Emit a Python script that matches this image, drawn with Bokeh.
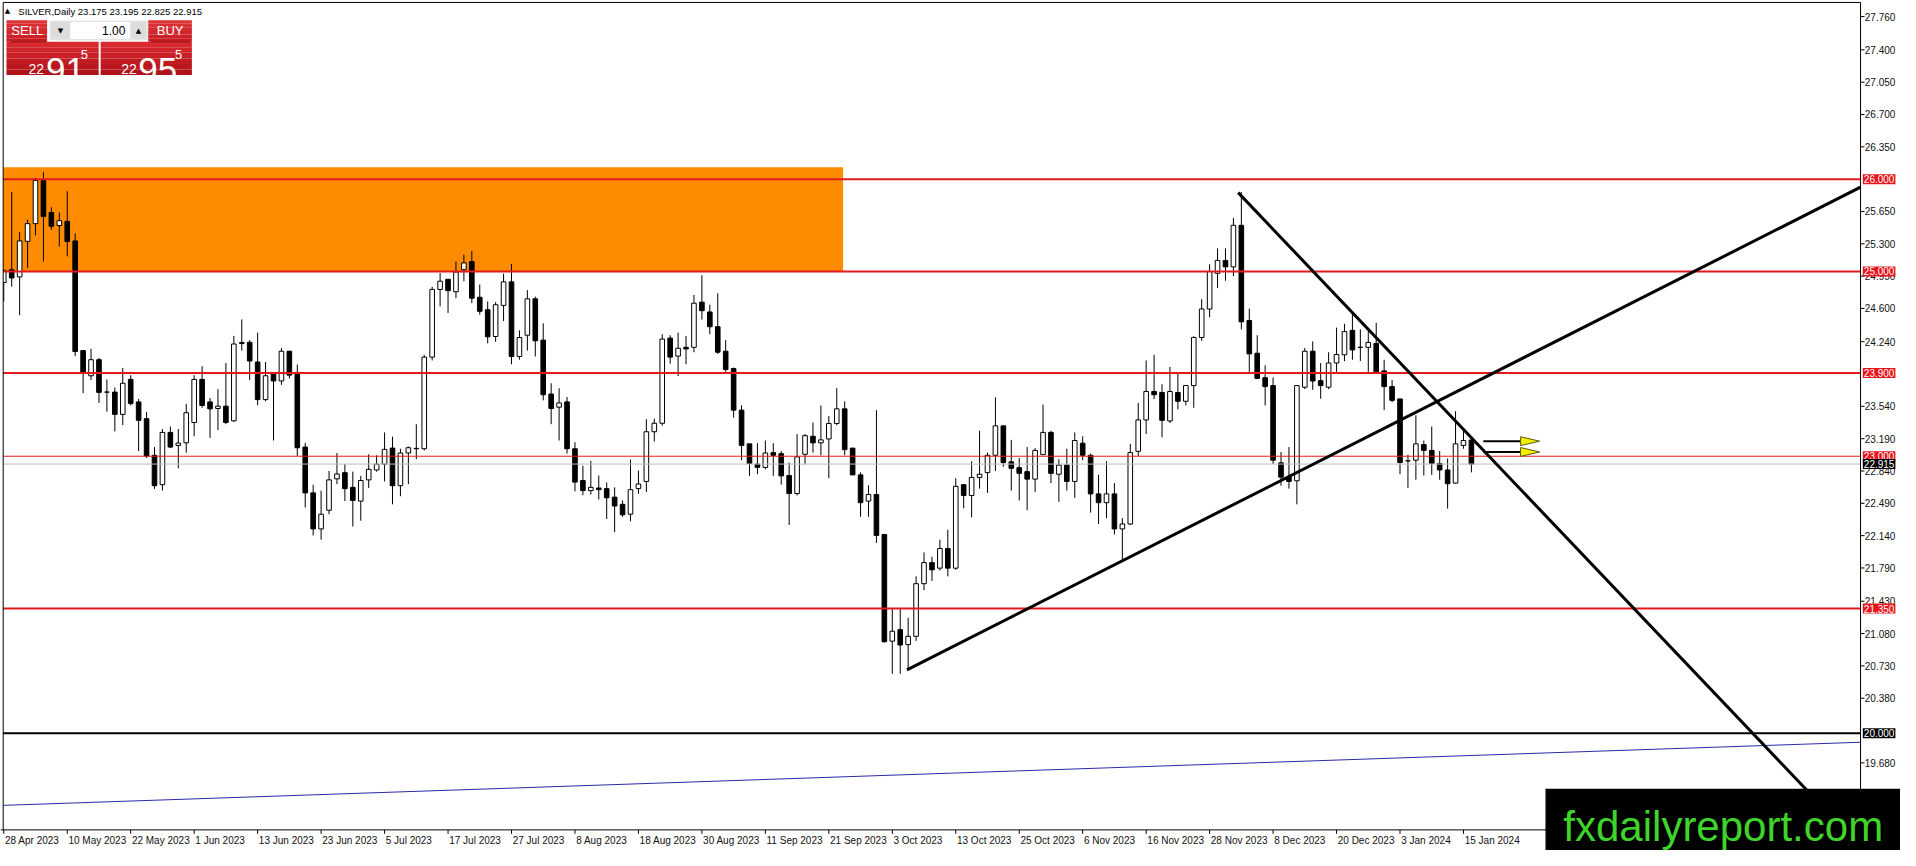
import numpy as np
from bokeh.plotting import figure
from bokeh.models import Range1d, Label, BoxAnnotation, ColumnDataSource
from bokeh.core.properties import value
from bokeh.embed import file_html
from bokeh.resources import INLINE

# ---------------- data (SILVER, Daily) ----------------
opens = [24.881, 25.019, 24.941, 25.327, 25.518, 25.986, 25.639, 25.497, 25.543, 25.331,
         24.144, 23.871, 24.045, 23.694, 23.694, 23.453, 23.832, 23.588, 23.407, 23.010,
         22.692, 23.258, 23.117, 23.145, 23.365, 23.832, 23.588, 23.517, 23.542, 23.383,
         24.220, 24.233, 24.020, 23.613, 23.889, 23.815, 24.137, 23.907, 23.099, 22.603,
         22.213, 22.415, 22.755, 22.822, 22.663, 22.514, 22.744, 22.851, 22.914, 23.088,
         22.681, 23.035, 23.081, 23.081, 24.073, 24.806, 24.916, 24.781, 25.019, 25.107,
         24.721, 24.586, 24.296, 24.633, 24.888, 24.080, 24.310, 24.704, 24.257, 23.673,
         23.531, 23.588, 23.081, 22.737, 22.628, 22.656, 22.649, 22.557, 22.479, 22.373,
         22.649, 22.727, 23.265, 23.357, 24.279, 24.084, 24.179, 24.179, 24.668, 24.562,
         24.402, 24.137, 23.949, 23.499, 23.134, 22.915, 22.879, 23.039, 23.028, 22.791,
         22.596, 23.021, 23.216, 23.145, 23.187, 23.354, 23.513, 23.088, 22.798, 22.514,
         22.585, 22.153, 20.998, 21.122, 20.960, 21.050, 21.620, 21.848, 21.788, 22.001,
         21.788, 22.692, 22.575, 22.770, 22.823, 23.010, 23.329, 22.939, 22.876, 22.833,
         22.752, 23.017, 23.258, 22.805, 22.904, 22.727, 23.141, 23.010, 22.592, 22.497,
         22.592, 22.213, 22.266, 23.053, 23.393, 23.701, 23.690, 23.382, 23.690, 23.595,
         23.765, 24.285, 24.594, 24.980, 25.120, 25.050, 25.500, 24.470, 24.115, 23.850,
         23.765, 22.929, 22.773, 22.734, 23.747, 24.137, 23.818, 23.747, 24.009, 24.098,
         24.363, 24.179, 24.179, 24.222, 23.924, 23.754, 23.620, 22.950, 22.957, 23.127,
         23.063, 22.922, 22.851, 22.709, 23.117, 23.175]

highs = [25.020, 25.862, 25.426, 25.561, 26.014, 26.075, 25.696, 25.639, 25.869, 25.412,
         24.150, 24.162, 24.066, 23.832, 23.744, 23.956, 23.878, 23.620, 23.478, 23.099,
         23.294, 23.322, 23.294, 23.567, 23.878, 23.974, 23.630, 23.726, 24.009, 24.303,
         24.481, 24.257, 24.339, 24.020, 23.903, 24.172, 24.137, 23.992, 23.145, 22.691,
         22.627, 22.840, 23.035, 22.914, 22.833, 22.787, 23.021, 23.010, 23.258, 23.212,
         23.081, 23.106, 23.346, 24.098, 24.834, 24.983, 24.916, 25.107, 25.182, 25.224,
         24.859, 24.675, 24.668, 24.976, 25.083, 24.363, 24.799, 24.728, 24.438, 23.790,
         23.736, 23.641, 23.152, 22.897, 22.950, 22.791, 22.716, 22.663, 22.521, 22.964,
         22.844, 23.400, 23.407, 24.321, 24.310, 24.339, 24.303, 24.746, 24.959, 24.640,
         24.764, 24.257, 23.960, 23.552, 23.134, 23.141, 23.170, 23.141, 23.056, 22.932,
         23.240, 23.240, 23.365, 23.549, 23.435, 23.737, 23.595, 23.088, 22.826, 22.684,
         23.499, 22.153, 21.353, 21.353, 21.250, 21.700, 21.958, 21.912, 22.096, 22.203,
         22.762, 22.699, 22.946, 23.276, 23.039, 23.637, 23.329, 23.177, 22.982, 23.099,
         23.088, 23.559, 23.276, 22.968, 23.081, 23.258, 23.216, 23.028, 22.798, 22.946,
         22.709, 22.330, 23.134, 23.577, 24.037, 24.098, 23.779, 23.967, 23.896, 23.765,
         24.300, 24.700, 25.080, 25.250, 25.250, 25.580, 25.860, 24.597, 24.310, 23.985,
         23.853, 23.046, 23.099, 23.765, 24.172, 24.243, 24.009, 24.126, 24.392, 24.434,
         24.551, 24.374, 24.356, 24.445, 24.045, 23.825, 23.620, 23.017, 23.443, 23.170,
         23.322, 23.056, 22.975, 23.488, 23.276, 23.195]

lows = [24.675, 24.835, 24.527, 25.037, 25.391, 25.108, 25.448, 25.270, 25.164, 24.084,
        23.683, 23.825, 23.577, 23.482, 23.269, 23.336, 23.549, 23.056, 22.982, 22.646,
        22.628, 23.088, 22.869, 23.039, 23.216, 23.524, 23.198, 23.283, 23.347, 23.372,
        24.144, 23.825, 23.552, 23.595, 23.170, 23.772, 23.843, 23.003, 22.444, 22.142,
        22.096, 22.372, 22.698, 22.514, 22.238, 22.302, 22.656, 22.833, 22.727, 22.479,
        22.567, 22.698, 22.968, 23.063, 24.037, 24.622, 24.551, 24.711, 24.895, 24.657,
        24.533, 24.222, 24.239, 24.463, 23.995, 24.045, 24.144, 24.080, 23.605, 23.347,
        23.170, 23.028, 22.620, 22.578, 22.585, 22.532, 22.320, 22.178, 22.344, 22.295,
        22.592, 22.613, 23.159, 23.330, 24.002, 23.868, 23.995, 24.126, 24.480, 24.321,
        24.108, 23.914, 23.418, 22.957, 22.787, 22.805, 22.858, 22.787, 22.692, 22.256,
        22.575, 22.911, 23.039, 23.010, 22.762, 23.336, 23.010, 22.798, 22.344, 22.344,
        22.061, 20.984, 20.644, 20.644, 20.690, 21.000, 21.550, 21.650, 21.763, 21.699,
        21.770, 22.436, 22.337, 22.649, 22.603, 22.840, 22.886, 22.628, 22.521, 22.415,
        22.613, 23.017, 22.709, 22.507, 22.628, 22.550, 22.957, 22.390, 22.266, 22.330,
        22.153, 21.859, 22.256, 23.003, 23.241, 23.619, 23.205, 23.360, 23.506, 23.549,
        23.524, 24.250, 24.505, 24.820, 24.900, 24.950, 24.374, 23.914, 23.835, 23.549,
        22.915, 22.681, 22.649, 22.479, 23.726, 23.719, 23.623, 23.726, 23.914, 24.030,
        24.045, 24.030, 23.914, 23.914, 23.499, 23.584, 22.805, 22.656, 22.745, 22.791,
        22.798, 22.745, 22.433, 22.702, 23.081, 22.825]

closes = [25.012, 24.930, 25.331, 25.518, 25.986, 25.596, 25.490, 25.550, 25.324, 24.133,
          23.907, 24.045, 23.691, 23.694, 23.453, 23.790, 23.570, 23.389, 23.003, 22.681,
          23.258, 23.099, 23.142, 23.471, 23.832, 23.549, 23.513, 23.542, 23.365, 24.215,
          24.232, 24.031, 23.613, 23.871, 23.815, 24.137, 23.878, 23.092, 22.603, 22.213,
          22.372, 22.744, 22.808, 22.649, 22.521, 22.737, 22.858, 22.914, 23.074, 22.681,
          23.035, 23.092, 23.085, 24.073, 24.806, 24.895, 24.792, 24.994, 25.093, 24.711,
          24.569, 24.293, 24.640, 24.888, 24.080, 24.285, 24.704, 24.250, 23.666, 23.517,
          23.577, 23.081, 22.720, 22.628, 22.663, 22.638, 22.550, 22.461, 22.366, 22.638,
          22.699, 23.265, 23.357, 24.268, 24.073, 24.169, 24.162, 24.657, 24.576, 24.402,
          24.126, 23.938, 23.499, 23.117, 22.922, 22.879, 23.035, 23.010, 22.787, 22.596,
          22.993, 23.223, 23.145, 23.177, 23.354, 23.513, 23.071, 22.798, 22.497, 22.585,
          22.143, 20.991, 21.105, 20.956, 21.050, 21.620, 21.848, 21.770, 22.001, 21.788,
          22.674, 22.575, 22.770, 22.805, 23.010, 23.329, 22.932, 22.869, 22.815, 22.752,
          23.063, 23.258, 22.815, 22.904, 22.727, 23.170, 23.010, 22.592, 22.497, 22.592,
          22.213, 22.266, 23.039, 23.393, 23.701, 23.666, 23.389, 23.701, 23.595, 23.765,
          24.285, 24.594, 25.000, 25.120, 25.050, 25.500, 24.455, 24.108, 23.843, 23.754,
          22.957, 22.773, 22.727, 23.765, 24.137, 23.814, 23.765, 24.009, 24.101, 24.349,
          24.151, 24.179, 24.232, 23.914, 23.754, 23.605, 22.932, 22.950, 23.134, 23.063,
          22.922, 22.851, 22.702, 23.134, 23.170, 22.915]

x_tick_bars = [0, 8, 16, 24, 32, 40, 48, 56, 64, 72, 80, 88, 96, 104, 112, 120,
               128, 136, 144, 152, 160, 168, 176, 184]
x_tick_labels = ["28 Apr 2023", "10 May 2023", "22 May 2023", "1 Jun 2023", "13 Jun 2023",
                 "23 Jun 2023", "5 Jul 2023", "17 Jul 2023", "27 Jul 2023", "8 Aug 2023",
                 "18 Aug 2023", "30 Aug 2023", "11 Sep 2023", "21 Sep 2023", "3 Oct 2023",
                 "13 Oct 2023", "25 Oct 2023", "6 Nov 2023", "16 Nov 2023", "28 Nov 2023",
                 "8 Dec 2023", "20 Dec 2023", "3 Jan 2024", "15 Jan 2024"]
y_ticks = [27.760, 27.400, 27.050, 26.700, 26.350, 25.650, 25.300, 24.950, 24.600, 24.240,
           23.540, 23.190, 22.840, 22.490, 22.140, 21.790, 21.430, 21.080, 20.730, 20.380, 19.680]
y_tick_labels = [f"{t:.3f}" for t in y_ticks]

red_levels = [26.000, 25.000, 23.900, 23.000, 21.350]
red_widths = [2, 2, 2, 1, 2]
black_level = 20.000
bid_price = 22.915

zone_right_bar = 105.8
zone_prices = [25.000, 26.128]

trend_up_bars = [113.85, 234.05]
trend_up_prices = [20.687, 25.913]
trend_down_bars = [155.6, 232.0]
trend_down_prices = [25.854, 18.958]
channel_bars = [0.0, 234.05]
channel_prices = [19.22, 19.903]

arrow_prices = [23.163, 23.046]
arrow_line_bars = [186.5, 191.2]
arrow_tip_bar = 193.6

header_text = "SILVER,Daily  23.175 23.195 22.825 22.915"


# ---------------- geometry helpers (the chart's own price/bar scale) ----------------
def bx(px):
    return (px - 3.3) / 8.0


def by(py):
    return 26.0 - (py - 182.0) / 94.1


W, H = 1900, 850
LEFT, RIGHT = bx(2.7), bx(1875.7)     # chart area (bars)
TOP, BOTTOM = by(2), by(845)          # chart area (prices)
FONT = value("Liberation Sans")
RED = "#e11b1b"
TAG_RED = "#e8141c"

p = figure(width=W, height=H, x_range=Range1d(bx(0), bx(1916)), y_range=Range1d(by(866), by(0)),
           output_backend="svg", toolbar_location=None,
           x_axis_location=None, y_axis_location=None,
           min_border_left=0, min_border_top=0, min_border_right=0, min_border_bottom=0,
           background_fill_color="white", border_fill_color="white")
p.outline_line_color = None
for g in p.grid:
    g.visible = False

# orange supply zone
p.quad(left=[LEFT], right=[zone_right_bar], bottom=[zone_prices[0]], top=[zone_prices[1]],
       fill_color="#ff8c00", line_color=None)

# candles
o = np.array(opens); c = np.array(closes)
src = ColumnDataSource(dict(
    x=np.arange(len(opens)), h=highs, l=lows,
    top=np.maximum(o, c), bot=np.minimum(o, c),
    fill=["white" if cc >= oo else "black" for oo, cc in zip(opens, closes)]))
p.segment(x0="x", y0="h", x1="x", y1="l", line_color="black", line_width=1, source=src)
p.vbar(x="x", width=0.58, top="top", bottom="bot", fill_color="fill",
       line_color="black", line_width=1, source=src)

# mask left of the chart area
p.quad(left=[bx(0)], right=[LEFT], bottom=[BOTTOM], top=[TOP], fill_color="white", line_color=None)

# horizontal levels
p.segment(x0=[LEFT], y0=[bid_price], x1=[RIGHT], y1=[bid_price], line_color="#b7bfb7", line_width=1)
for lvl, lw in zip(red_levels, red_widths):
    p.segment(x0=[LEFT], y0=[lvl], x1=[RIGHT], y1=[lvl], line_color=RED, line_width=lw)
p.segment(x0=[LEFT], y0=[black_level], x1=[RIGHT], y1=[black_level], line_color="black", line_width=2)

# blue channel line and trend lines
p.line(channel_bars, channel_prices, line_color="#2a2aa6", line_width=1)
p.line(trend_up_bars, trend_up_prices, line_color="black", line_width=3)
p.line(trend_down_bars, trend_down_prices, line_color="black", line_width=3)

# arrows
for ap in arrow_prices:
    p.segment(x0=[arrow_line_bars[0]], y0=[ap], x1=[arrow_line_bars[1]], y1=[ap],
              line_color="black", line_width=2)
hh = 4.5 / 94.1
p.patches(xs=[[arrow_line_bars[1], arrow_line_bars[1], arrow_tip_bar] for _ in arrow_prices],
          ys=[[ap + hh, ap - hh, ap] for ap in arrow_prices],
          fill_color="#f5f000", line_color="#5a5a10", line_width=1)

# frame: top / left border, right price scale, bottom time scale
p.segment(x0=[LEFT, LEFT, RIGHT, bx(0)], y0=[TOP, TOP, TOP, BOTTOM],
          x1=[RIGHT, LEFT, RIGHT, RIGHT], y1=[TOP, BOTTOM, BOTTOM, BOTTOM],
          line_color="black", line_width=1)

# price scale ticks and labels
tick_len = 4 / 8.0
p.segment(x0=[RIGHT] * len(y_ticks), y0=y_ticks, x1=[RIGHT + tick_len] * len(y_ticks), y1=y_ticks,
          line_color="black", line_width=1)
p.text(x=[bx(1880)] * len(y_ticks), y=y_ticks, text=y_tick_labels, text_font=FONT,
       text_font_size=value("10px"), text_color="#111111", text_align="left",
       text_baseline="middle")

# time scale ticks and labels
tick_h = 4 / 94.1
p.segment(x0=x_tick_bars, y0=[BOTTOM] * len(x_tick_bars), x1=x_tick_bars,
          y1=[BOTTOM - tick_h] * len(x_tick_bars), line_color="black", line_width=1)
p.text(x=[b + 0.15 for b in x_tick_bars], y=[by(855.5)] * len(x_tick_bars), text=x_tick_labels,
       text_font=FONT, text_font_size=value("10px"), text_color="#111111",
       text_align="left", text_baseline="middle")

# watermark
p.quad(left=[bx(1558)], right=[bx(1920)], bottom=[by(870)], top=[by(803)],
       fill_color="black", line_color=None)
p.text(x=[bx(1576)], y=[by(842)], text=["fxdailyreport.com"], text_font=FONT,
       text_font_size=value("42px"), text_color="#3ed42a", text_align="left",
       text_baseline="alphabetic")

# price tags on the right scale
for lvl in red_levels:
    p.add_layout(Label(x=bx(1878), y=lvl, text=f"{lvl:.3f}", text_align="left",
                       text_baseline="middle", text_font="Liberation Sans",
                       text_font_size="10px", text_color="white",
                       background_fill_color=TAG_RED, background_fill_alpha=1, padding=1))
for lvl in [bid_price, black_level]:
    p.add_layout(Label(x=bx(1878), y=lvl, text=f"{lvl:.3f}", text_align="left",
                       text_baseline="middle", text_font="Liberation Sans",
                       text_font_size="10px", text_color="white",
                       background_fill_color="black", background_fill_alpha=1, padding=1))


# one-click trading panel
def hexmix(c1, c2, t):
    a = [int(c1[i:i + 2], 16) for i in (1, 3, 5)]
    b = [int(c2[i:i + 2], 16) for i in (1, 3, 5)]
    return "#%02x%02x%02x" % tuple(int(round(a[k] + (b[k] - a[k]) * t)) for k in range(3))


def grad_box(x0, x1, y0, y1, ctop, cbot, n=6):
    for k in range(n):
        ya = y0 + (y1 - y0) * k / n
        yb = y0 + (y1 - y0) * (k + 1) / n
        p.add_layout(BoxAnnotation(left=bx(x0), right=bx(x1), top=by(ya), bottom=by(yb),
                                   fill_color=hexmix(ctop, cbot, k / (n - 1)), fill_alpha=1,
                                   line_color=None))


def flat_box(x0, x1, y0, y1, fill, line=None):
    p.add_layout(BoxAnnotation(left=bx(x0), right=bx(x1), top=by(y0), bottom=by(y1),
                               fill_color=fill, fill_alpha=1, line_color=line,
                               line_width=1))


grad_box(6, 47, 20, 42, "#de3438", "#c81c22")
grad_box(149, 193, 20, 42, "#de3438", "#c81c22")
grad_box(6, 99, 42, 76, "#d82a2e", "#b0121a")
grad_box(101, 193, 42, 76, "#d82a2e", "#b0121a")
flat_box(10, 46, 41.5, 42.5, "#8c0c10")
flat_box(152, 191, 41.5, 42.5, "#8c0c10")
flat_box(50, 148, 21, 40, "#f4f4f4", "#9a9a9a")
flat_box(51, 70, 22, 39, "#dcdcdc")
flat_box(71, 130, 22, 39, "white")
flat_box(131, 147, 22, 39, "#dcdcdc")


def lab(xp, yp, txt, size, color="white", align="left", base="middle", font="Liberation Sans"):
    p.add_layout(Label(x=bx(xp), y=by(yp), text=txt, text_align=align, text_baseline=base,
                       text_font=font, text_font_size=f"{size}px", text_color=color))


lab(27, 31, "SELL", 13, align="center")
lab(171, 31, "BUY", 13, align="center")
lab(126, 31, "1.00", 12, color="black", align="right")
lab(60.5, 31, "▼", 7, color="black", align="center", font="DejaVu Sans")
lab(139, 31, "▲", 7, color="black", align="center", font="DejaVu Sans")
lab(36, 70, "22", 14, align="center", base="alphabetic")
lab(46, 71, "91", 35, base="alphabetic")
lab(81, 55, "5", 13, base="alphabetic")
lab(129.5, 70, "22", 14, align="center", base="alphabetic")
lab(139, 71, "95", 35, base="alphabetic")
lab(176, 55, "5", 13, base="alphabetic")

# header
lab(7, 11, "▲", 7, color="black", align="center", font="DejaVu Sans")
lab(18, 11, header_text, 9.5, color="black")

open("out.html", "w").write(file_html(p, INLINE))
